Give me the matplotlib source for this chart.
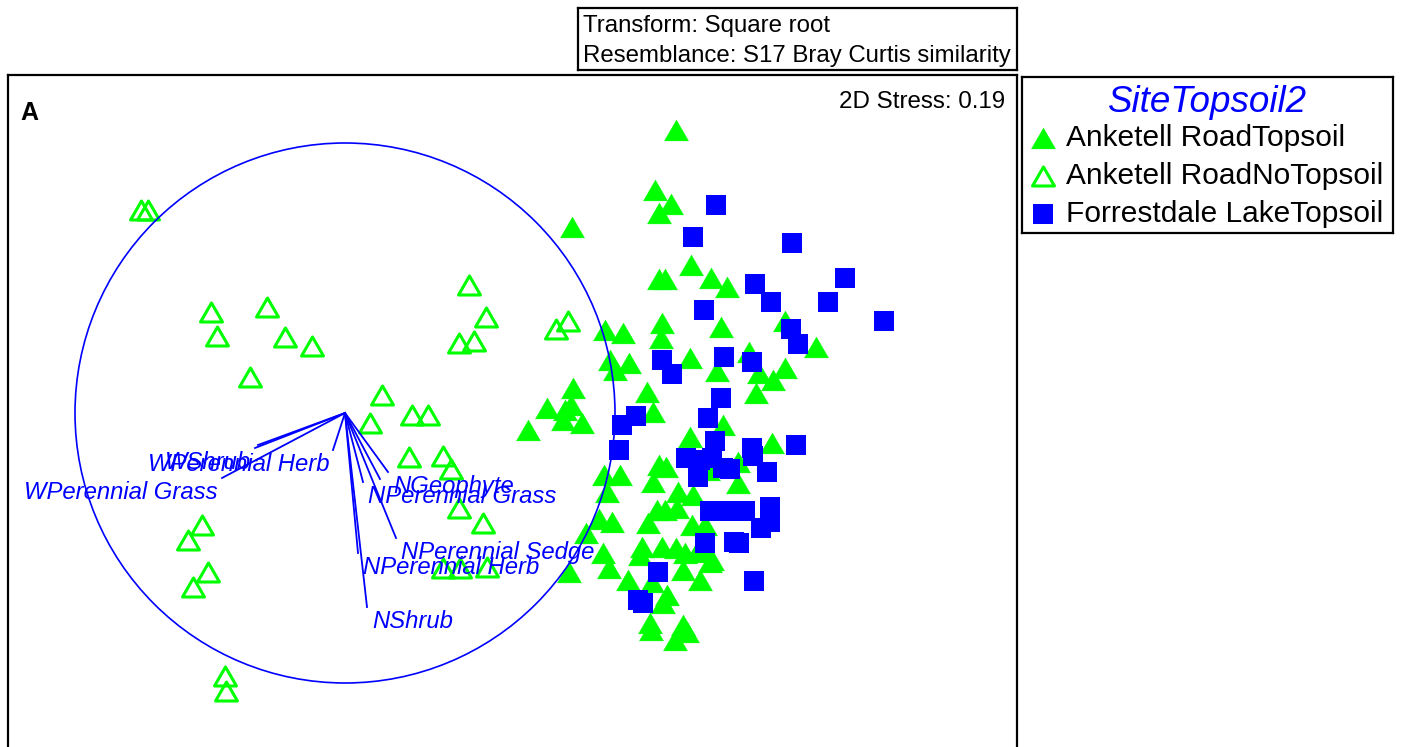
import numpy as np
import matplotlib.pyplot as plt
from matplotlib.patches import Circle
from matplotlib.path import Path

plt.rcParams['font.family'] = ['Liberation Sans', 'DejaVu Sans']

W, H = 1402, 747

# nMDS scores by group (plot units, y increases downwards)
topsoil_x = [676, 655, 671, 659, 572, 691, 659, 665, 711, 727,
             605, 623, 662, 661, 721, 785, 816, 749, 690, 610, 629, 615, 717, 759, 773, 785, 756, 647, 653,
             573, 571, 547, 565, 563, 582, 528,
             723, 772, 738, 738,
             604, 620, 607, 599, 612, 586, 603, 609, 569, 628,
             659, 666, 653, 678, 693, 657, 665, 677, 692, 648, 642, 662, 676, 640, 685, 700, 712, 683, 700,
             652, 667, 663, 650, 651, 683, 675, 687, 705, 697, 710, 690, 708]
topsoil_y = [130, 190, 204, 213, 227, 265, 279, 279, 278, 287,
             330, 333, 323, 338, 327, 321, 347, 352, 358, 360, 363, 370, 371, 373, 380, 368, 393, 392, 412,
             388, 405, 408, 410, 420, 423, 430,
             425, 443, 462, 483,
             475, 475, 492, 519, 522, 533, 553, 568, 572, 580,
             465, 467, 482, 492, 495, 510, 510, 508, 525, 523, 547, 547, 548, 555, 553, 547, 560, 570, 580,
             582, 595, 603, 623, 630, 625, 640, 632, 525, 552, 562, 437, 470]

notopsoil_x = [141, 148, 211, 267, 217, 285, 312, 250, 382, 469, 486, 459, 474, 556, 568,
               370, 412, 428, 409, 443, 451, 459, 483, 202, 188, 208, 193, 225, 226, 443, 460, 487]
notopsoil_y = [210, 210, 312, 307, 336, 337, 346, 377, 395, 285, 317, 343, 341, 329, 321,
               423, 415, 415, 457, 456, 469, 508, 523, 525, 540, 572, 587, 676, 691, 568, 568, 567]

forrestdale_x = [716, 693, 792, 845, 755, 771, 828, 704, 884, 791, 798, 662, 672, 724, 752,
                 721, 636, 708, 622, 619, 715, 686, 700, 712, 752, 753, 796, 730, 723, 698,
                 767, 710, 726, 745, 770, 770, 761, 705, 734, 739, 658, 754, 638, 643]
forrestdale_y = [205, 237, 243, 278, 284, 302, 302, 310, 321, 329, 344, 360, 374, 357, 362,
                 398, 416, 418, 425, 450, 441, 458, 460, 458, 448, 456, 445, 469, 468, 477,
                 472, 511, 511, 511, 507, 522, 528, 543, 542, 543, 572, 581, 600, 603]

# vector overlay (correlations), drawn from a common origin
vec_origin = (345, 413)
vec_radius = 270
vec_x = [255, 258, 333, 222, 388, 380, 363, 396, 358, 367]
vec_y = [448, 445, 450, 478, 472, 479, 482, 538, 553, 607]
vec_labels = ['WShrub', '', 'WPerennial Herb', 'WPerennial Grass', 'NGeophyte', '',
              'NPerennial Grass', 'NPerennial Sedge', 'NPerennial Herb', 'NShrub']

groups = ['Anketell RoadTopsoil', 'Anketell RoadNoTopsoil', 'Forrestdale LakeTopsoil']

green = '#00ff00'
blue = '#0000ff'
# closed equilateral triangle marker
tri = Path([(-1, -0.866), (1, -0.866), (0, 0.866), (0, 0)], closed=True)

fig = plt.figure(figsize=(W / 100, H / 100), dpi=100)

# main ordination panel
ax = fig.add_axes([8 / W, -0.02, (1017 - 8) / W, (1 - 75 / H) + 0.02])
ax.set_xlim(8, 1017)
ax.set_ylim(H * 1.02, 75)
ax.set_xticks([])
ax.set_yticks([])
for s in ax.spines.values():
    s.set_linewidth(1.6)

ax.plot(topsoil_x, topsoil_y, ls='none', marker=tri, ms=17.3, mfc=green, mec=green,
        mew=0.3, zorder=2)
ax.plot(notopsoil_x, notopsoil_y, ls='none', marker=tri, ms=15.8, mfc='none', mec=green,
        mew=2.2, zorder=3)
ax.plot(forrestdale_x, forrestdale_y, ls='none', marker='s', ms=14.4, mfc=blue, mec=blue,
        mew=0, zorder=4)

ax.add_patch(Circle(vec_origin, vec_radius, fill=False, ec=blue, lw=1.2, zorder=5))
for x, y, lab in zip(vec_x, vec_y, vec_labels):
    ax.plot([vec_origin[0], x], [vec_origin[1], y], color=blue, lw=1.3, zorder=5)
    if not lab:
        continue
    if x < vec_origin[0]:
        ax.text(x - 4, y + 15, lab, ha='right', va='center', color=blue,
                style='italic', fontsize=17.2, zorder=6)
    else:
        ax.text(x + 5, y + 15, lab, ha='left', va='center', color=blue,
                style='italic', fontsize=17.2, zorder=6)

ax.text(20, 113, 'A', fontsize=18, fontweight='bold', ha='left', va='center')
ax.text(1005, 102, '2D Stress: 0.19', fontsize=17.4, ha='right', va='center')

# transform / resemblance box
info = fig.add_axes([578 / W, 1 - 70 / H, (1017 - 578) / W, 62 / H])
info.set_xticks([])
info.set_yticks([])
for s in info.spines.values():
    s.set_linewidth(1.6)
info.text(5 / 439, 0.71, 'Transform: Square root', fontsize=17.3, va='center',
          transform=info.transAxes)
info.text(5 / 439, 0.23, 'Resemblance: S17 Bray Curtis similarity', fontsize=17.3,
          va='center', transform=info.transAxes)

# legend box
leg = fig.add_axes([1022 / W, 1 - 233 / H, (1393 - 1022) / W, (233 - 77) / H])
leg.set_xlim(0, 371)
leg.set_ylim(156, 0)
leg.set_xticks([])
leg.set_yticks([])
for s in leg.spines.values():
    s.set_linewidth(1.6)
leg.text(186, 25, 'SiteTopsoil2', color=blue, style='italic', fontsize=26.5,
         ha='center', va='center')
styles = [dict(marker=tri, ms=17.3, mfc=green, mec=green, mew=0.3),
          dict(marker=tri, ms=15.8, mfc='none', mec=green, mew=2.2),
          dict(marker='s', ms=14.4, mfc=blue, mec=blue, mew=0)]
for i, (name, st) in enumerate(zip(groups, styles)):
    yy = 61 + 38 * i
    leg.plot([21], [yy], ls='none', **st)
    leg.text(44, yy, name, fontsize=21.5, va='center')

fig.savefig('out.png', dpi=100)
